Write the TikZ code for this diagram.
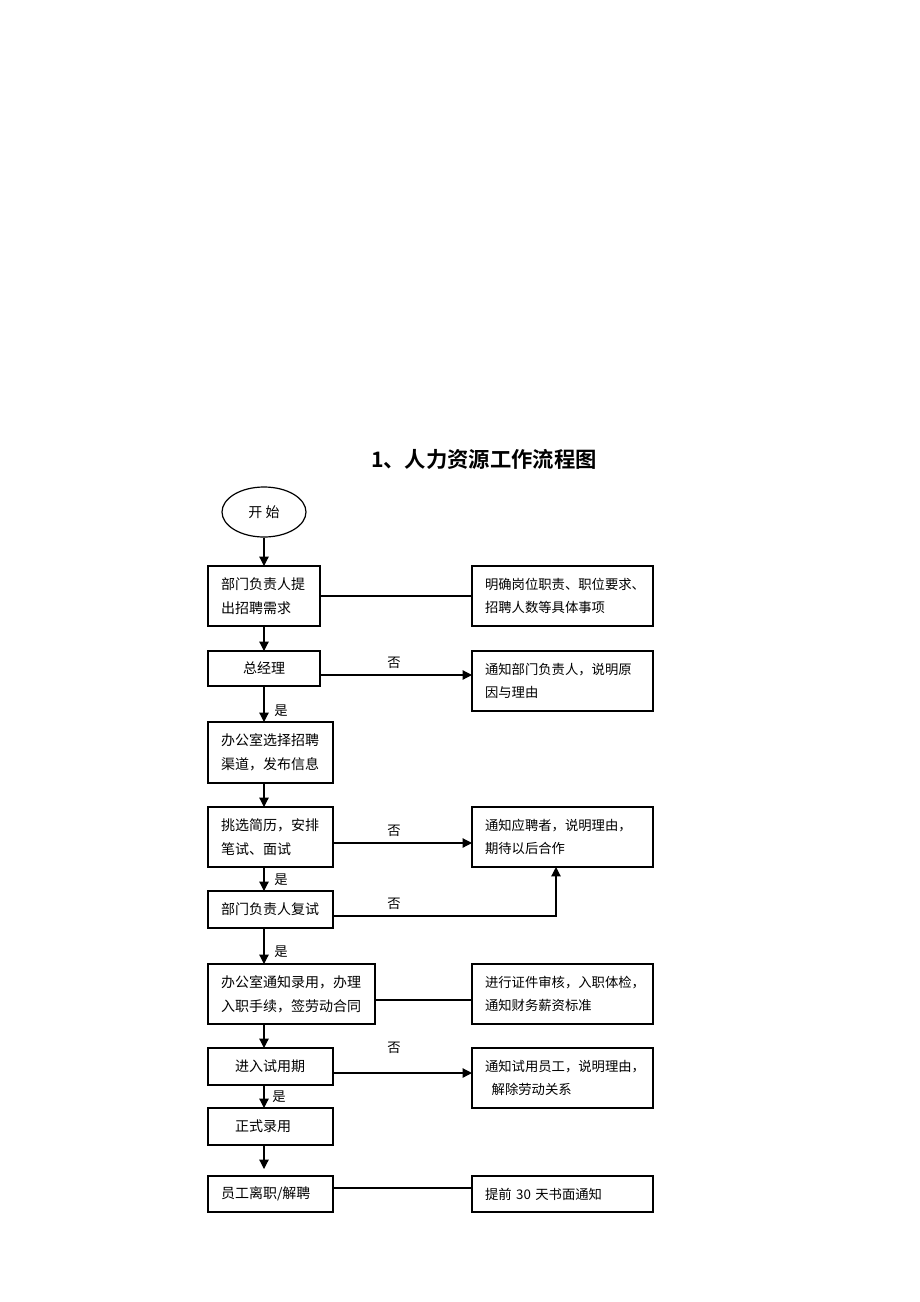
\documentclass[tikz,border=0pt]{standalone}
\usepackage{fontspec}
\setmainfont{Noto Sans CJK SC}
\newfontfamily\titlefont{Noto Sans CJK SC Bold}
\usetikzlibrary{shapes.geometric,arrows.meta}
\begin{document}
\begin{tikzpicture}[x=0.75pt,y=-0.75pt,
  box/.style={draw,line width=0.9pt,outer sep=0pt,inner ysep=0pt,inner xsep=9.75pt,align=left,font=\fontsize{10.5}{18}\selectfont},
  rbox/.style={box,minimum width=135.75pt,text width=116.25pt,minimum height=45pt,font=\fontsize{10}{17.5}\selectfont},
  arr/.style={line width=0.9pt,-{Triangle[length=7pt,width=7pt]}},
  ln/.style={line width=0.9pt},
  lab/.style={font=\fontsize{10}{12}\selectfont,inner sep=0pt}]
\useasboundingbox (0,0) rectangle (920,1302);
\coordinate (cx) at (264,0);
\node[font=\titlefont\fontsize{16}{20}\selectfont] (title) at (484,459) {1、人力资源工作流程图};
\node[draw,ellipse,line width=0.9pt,minimum width=63pt,minimum height=37.5pt,inner sep=0pt,font=\fontsize{10.5}{12}\selectfont] (start) at (264,512) {开\ 始};
% left column
\node[box,minimum width=84pt,text width=64.5pt,minimum height=45pt] (b1) at (264,596) {部门负责人提\\出招聘需求};
\node[box,minimum width=84pt,text width=64.5pt,minimum height=26.25pt,align=center] (b2) at (264,668.5) {总经理};
\node[box,minimum width=93.75pt,text width=74.25pt,minimum height=45.75pt] (b3) at (270.5,752.5) {办公室选择招聘\\渠道，发布信息};
\node[box,minimum width=93.75pt,text width=74.25pt,minimum height=45pt] (b4) at (270.5,837) {挑选简历，安排\\笔试、面试};
\node[box,minimum width=93.75pt,text width=74.25pt,minimum height=27.75pt] (b5) at (270.5,909.5) {部门负责人复试};
\node[box,minimum width=125.25pt,text width=105.75pt,minimum height=45pt] (b6) at (291.5,994) {办公室通知录用，办理\\入职手续，签劳动合同};
\node[box,minimum width=93.75pt,inner xsep=20.25pt,text width=53.25pt,minimum height=27.75pt] (b7) at (270.5,1066.5) {进入试用期};
\node[box,minimum width=93.75pt,inner xsep=20.25pt,text width=53.25pt,minimum height=27.75pt] (b8) at (270.5,1126.5) {正式录用};
\node[box,minimum width=93.75pt,text width=74.25pt,minimum height=27pt] (b9) at (270.5,1194) {员工离职/解聘};
% right column
\node[rbox] (r1) at (562.5,596) {明确岗位职责、职位要求、\\招聘人数等具体事项};
\node[rbox] (r2) at (562.5,681) {通知部门负责人，说明原\\因与理由};
\node[rbox] (r4) at (562.5,837) {通知应聘者，说明理由，\\期待以后合作};
\node[rbox] (r6) at (562.5,994) {进行证件审核，入职体检，\\通知财务薪资标准};
\node[rbox] (r7) at (562.5,1078) {通知试用员工，说明理由，\\\hspace*{0.5em}解除劳动关系};
\node[rbox,minimum height=27pt] (r9) at (562.5,1194) {提前 30 天书面通知};
% vertical arrows
\coordinate (e9) at (264,1169);
\draw[arr] (start.south) -- (b1.north -| cx);
\draw[arr] (b1.south -| cx) -- (b2.north -| cx);
\draw[arr] (b2.south -| cx) -- (b3.north -| cx);
\draw[arr] (b3.south -| cx) -- (b4.north -| cx);
\draw[arr] (b4.south -| cx) -- (b5.north -| cx);
\draw[arr] (b5.south -| cx) -- (b6.north -| cx);
\draw[arr] (b6.south -| cx) -- (b7.north -| cx);
\draw[arr] (b7.south -| cx) -- (b8.north -| cx);
\draw[arr] (b8.south -| cx) -- (e9);
% horizontal connectors
\draw[ln] (b1.east) -- (r1.west);
\draw[arr] (b2.east |- 0,675) -- (r2.west |- 0,675);
\draw[arr] (b4.east |- 0,843) -- (r4.west |- 0,843);
\draw[arr] (b5.east |- 0,916) -| (r4.south -| 556,0);
\draw[ln] (b6.east |- 0,1000) -- (r6.west |- 0,1000);
\draw[arr] (b7.east |- 0,1073) -- (r7.west |- 0,1073);
\draw[ln] (b9.east |- 0,1188) -- (r9.west |- 0,1188);
% labels
\node[lab] (n1) at (394,663) {否};
\node[lab] (n2) at (394,831) {否};
\node[lab] (n3) at (394,904) {否};
\node[lab] (n4) at (394,1048) {否};
\node[lab] (y1) at (281,711) {是};
\node[lab] (y2) at (281,880) {是};
\node[lab] (y3) at (281,952) {是};
\node[lab] (y4) at (279,1097) {是};
\end{tikzpicture}
\end{document}
